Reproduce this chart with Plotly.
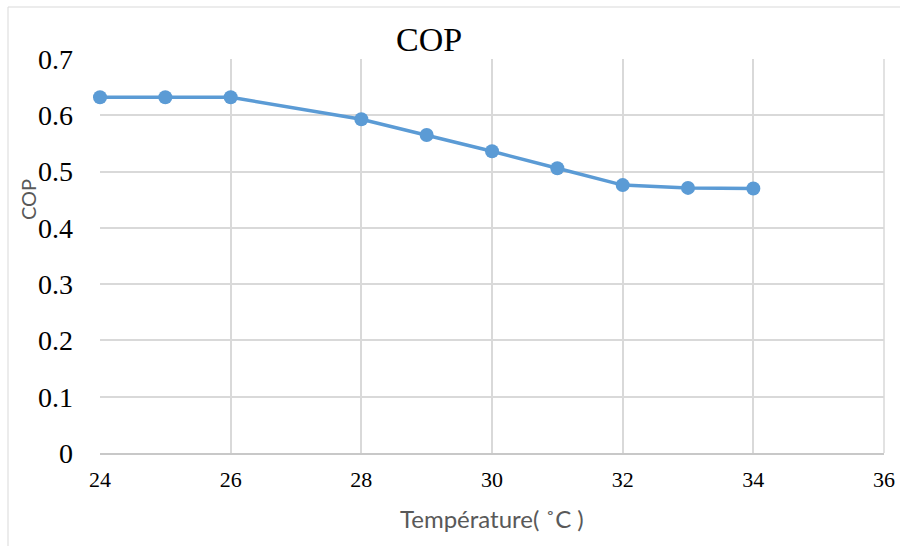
import plotly.graph_objects as go

# COP as a function of temperature
temperature = [24, 25, 26, 28, 29, 30, 31, 32, 33, 34]
cop = [0.632, 0.632, 0.632, 0.593, 0.565, 0.536, 0.506, 0.476, 0.471, 0.470]

x_ticks = [24, 26, 28, 30, 32, 34, 36]
y_ticks = [0, 0.1, 0.2, 0.3, 0.4, 0.5, 0.6, 0.7]
y_tick_text = ["0", "0.1", "0.2", "0.3", "0.4", "0.5", "0.6", "0.7"]

title_text = "COP"
x_title = "Température( ˚C )"
y_title = "COP"

BLUE = "#5b9bd5"
GRID = "#d9d9d9"
SERIF = "Liberation Serif, Times New Roman, serif"
SANS = "Lato, Liberation Sans, sans-serif"

W, H = 900, 546
L, R, T, B = 100, 16, 59, 93
pw, ph = W - L - R, H - T - B


def px_x(px):
    return (px - L) / pw


def px_y(py):
    return (H - B - py) / ph


fig = go.Figure()
fig.add_trace(go.Scatter(
    x=temperature, y=cop, mode="lines+markers",
    line=dict(color=BLUE, width=3.5),
    marker=dict(color=BLUE, size=14),
    cliponaxis=False,
    showlegend=False,
))

fig.update_layout(
    width=W, height=H,
    margin=dict(l=L, r=R, t=T, b=B),
    paper_bgcolor="white", plot_bgcolor="white",
    xaxis=dict(
        range=[24, 36], tickvals=x_ticks,
        showgrid=True, gridcolor=GRID, gridwidth=1.5,
        showline=True, linecolor="#c8c8c8", linewidth=1.5,
        zeroline=False, ticks="", automargin=False,
        tickfont=dict(family=SERIF, size=22, color="#000000"),
        ticklabelstandoff=6,
    ),
    yaxis=dict(
        range=[0, 0.7], tickvals=y_ticks, ticktext=y_tick_text,
        showgrid=True, gridcolor=GRID, gridwidth=1.5,
        showline=False, zeroline=False, ticks="", automargin=False,
        tickfont=dict(family=SERIF, size=28, color="#000000"),
        ticklabelstandoff=26,
    ),
    shapes=[
        # right edge of the plot area
        dict(type="line", xref="paper", yref="paper", x0=1, x1=1, y0=0, y1=1,
             line=dict(color=GRID, width=1.5)),
        # outer chart frame
        dict(type="rect", xref="paper", yref="paper",
             x0=px_x(8), x1=px_x(W + 20), y0=px_y(7), y1=px_y(H + 20),
             line=dict(color=GRID, width=1)),
    ],
    annotations=[
        dict(text=title_text, xref="paper", yref="paper",
             x=px_x(428.5), y=px_y(40), xanchor="center", yanchor="middle",
             showarrow=False, font=dict(family=SERIF, size=34, color="#000000")),
        dict(text=x_title, xref="paper", yref="paper",
             x=px_x(491.5), y=px_y(518), xanchor="center", yanchor="middle",
             showarrow=False, font=dict(family=SANS, size=24, color="#595959")),
        dict(text=y_title, xref="paper", yref="paper",
             x=px_x(28), y=px_y(200), xanchor="center", yanchor="middle",
             textangle=-90,
             showarrow=False, font=dict(family=SANS, size=20, color="#595959")),
    ],
)

fig.write_html("out.html")
